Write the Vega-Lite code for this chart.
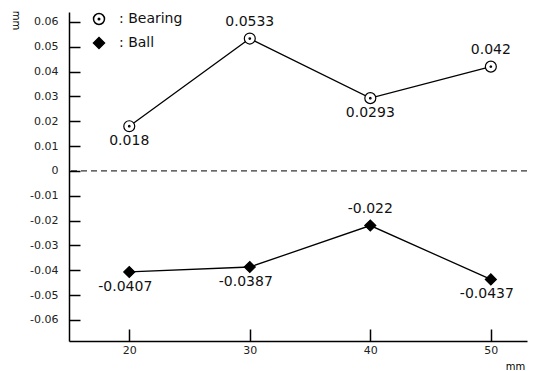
{
  "$schema": "https://vega.github.io/schema/vega-lite/v6.json",
  "width": 458,
  "height": 329,
  "autosize": {"type": "none"},
  "padding": {"left": 69, "top": 12, "right": 6, "bottom": 30},
  "background": "white",
  "config": {
    "view": {"stroke": null},
    "font": "DejaVu Sans",
    "locale": {"number": {"decimal": ".", "thousands": ",", "grouping": [3], "currency": ["$", ""], "minus": "-"}}
  },
  "data": {
    "values": [
      {"x": 20, "series": "Bearing", "value": 0.018},
      {"x": 30, "series": "Bearing", "value": 0.0533},
      {"x": 40, "series": "Bearing", "value": 0.0293},
      {"x": 50, "series": "Bearing", "value": 0.042},
      {"x": 20, "series": "Ball", "value": -0.0407},
      {"x": 30, "series": "Ball", "value": -0.0387},
      {"x": 40, "series": "Ball", "value": -0.022},
      {"x": 50, "series": "Ball", "value": -0.0437}
    ]
  },
  "encoding": {
    "x": {
      "field": "x", "type": "quantitative",
      "scale": {"domain": [15, 53], "nice": false, "zero": false},
      "axis": {
        "values": [20, 30, 40, 50], "grid": false,
        "domainColor": "black", "domainWidth": 1.5,
        "tickColor": "black", "tickWidth": 1.5, "tickSize": -12,
        "labelFontSize": 11, "labelColor": "#222", "labelPadding": 15,
        "title": "mm", "titleFontSize": 10, "titleFontWeight": "normal",
        "titleX": 446, "titleY": 25, "titleAlign": "center", "titleBaseline": "middle"
      }
    },
    "y": {
      "field": "value", "type": "quantitative",
      "scale": {"domain": [-0.0685, 0.064], "nice": false, "zero": false},
      "axis": {
        "values": [-0.06, -0.05, -0.04, -0.03, -0.02, -0.01, 0, 0.01, 0.02, 0.03, 0.04, 0.05, 0.06],
        "labelExpr": "datum.value == 0 ? '0' : format(datum.value, '.2f')",
        "grid": false,
        "domainColor": "black", "domainWidth": 1.5,
        "tickColor": "black", "tickWidth": 1.5, "tickSize": -11,
        "labelFontSize": 11, "labelColor": "#222", "labelPadding": 22,
        "title": "mm", "titleFontSize": 10, "titleFontWeight": "normal",
        "titleAngle": 90, "titleX": -54, "titleY": 8, "titleAlign": "center", "titleBaseline": "middle"
      }
    }
  },
  "layer": [
    {
      "data": {"values": [{"zero": 0}]},
      "mark": {"type": "rule", "strokeDash": [6, 4], "color": "black", "strokeWidth": 1},
      "encoding": {"y": {"field": "zero", "type": "quantitative"}, "x": null}
    },
    {
      "mark": {"type": "line", "color": "black", "strokeWidth": 1.3},
      "encoding": {"detail": {"field": "series"}}
    },
    {
      "mark": {"type": "point", "stroke": "black", "strokeWidth": 1.2, "opacity": 1},
      "encoding": {
        "shape": {
          "field": "series", "type": "nominal",
          "scale": {"domain": ["Bearing", "Ball"], "range": ["M-1,0A1,1 0 1,0 1,0A1,1 0 1,0 -1,0Z M-0.14,0A0.14,0.14 0 1,0 0.14,0A0.14,0.14 0 1,0 -0.14,0Z", "diamond"]},
          "legend": {
            "title": null, "orient": "none", "legendX": 23, "legendY": 0,
            "padding": 0, "rowPadding": 6, "symbolSize": 120,
            "labelFontSize": 14, "labelColor": "#111", "labelOffset": 13,
            "labelExpr": "': ' + datum.label",
            "encode": {"symbols": {"update": {"stroke": {"value": "black"}, "strokeWidth": {"value": 1.2}, "opacity": {"value": 1}}}}
          }
        },
        "fill": {
          "field": "series", "type": "nominal",
          "scale": {"domain": ["Bearing", "Ball"], "range": ["white", "black"]},
          "legend": {
            "title": null, "orient": "none", "legendX": 23, "legendY": 0,
            "padding": 0, "rowPadding": 6, "symbolSize": 120,
            "labelFontSize": 14, "labelColor": "#111", "labelOffset": 13,
            "labelExpr": "': ' + datum.label",
            "encode": {"symbols": {"update": {"stroke": {"value": "black"}, "strokeWidth": {"value": 1.2}, "opacity": {"value": 1}}}}
          }
        },
        "size": {"value": 120}
      }
    },
    {
      "transform": [{"filter": "(datum.series == 'Bearing' && (datum.x == 30 || datum.x == 50)) || (datum.series == 'Ball' && datum.x == 40)"}],
      "mark": {"type": "text", "fontSize": 14, "color": "#111", "dy": -17, "baseline": "middle", "align": "center"},
      "encoding": {"text": {"field": "value", "type": "quantitative"}}
    },
    {
      "transform": [{"filter": "datum.series == 'Bearing' && (datum.x == 20 || datum.x == 40)"}],
      "mark": {"type": "text", "fontSize": 14, "color": "#111", "dy": 15, "baseline": "middle", "align": "center"},
      "encoding": {"text": {"field": "value", "type": "quantitative"}}
    },
    {
      "transform": [{"filter": "datum.series == 'Ball' && datum.x != 40"}],
      "mark": {"type": "text", "fontSize": 14, "color": "#111", "dy": 15, "dx": -4, "baseline": "middle", "align": "center"},
      "encoding": {"text": {"field": "value", "type": "quantitative"}}
    }
  ]
}
